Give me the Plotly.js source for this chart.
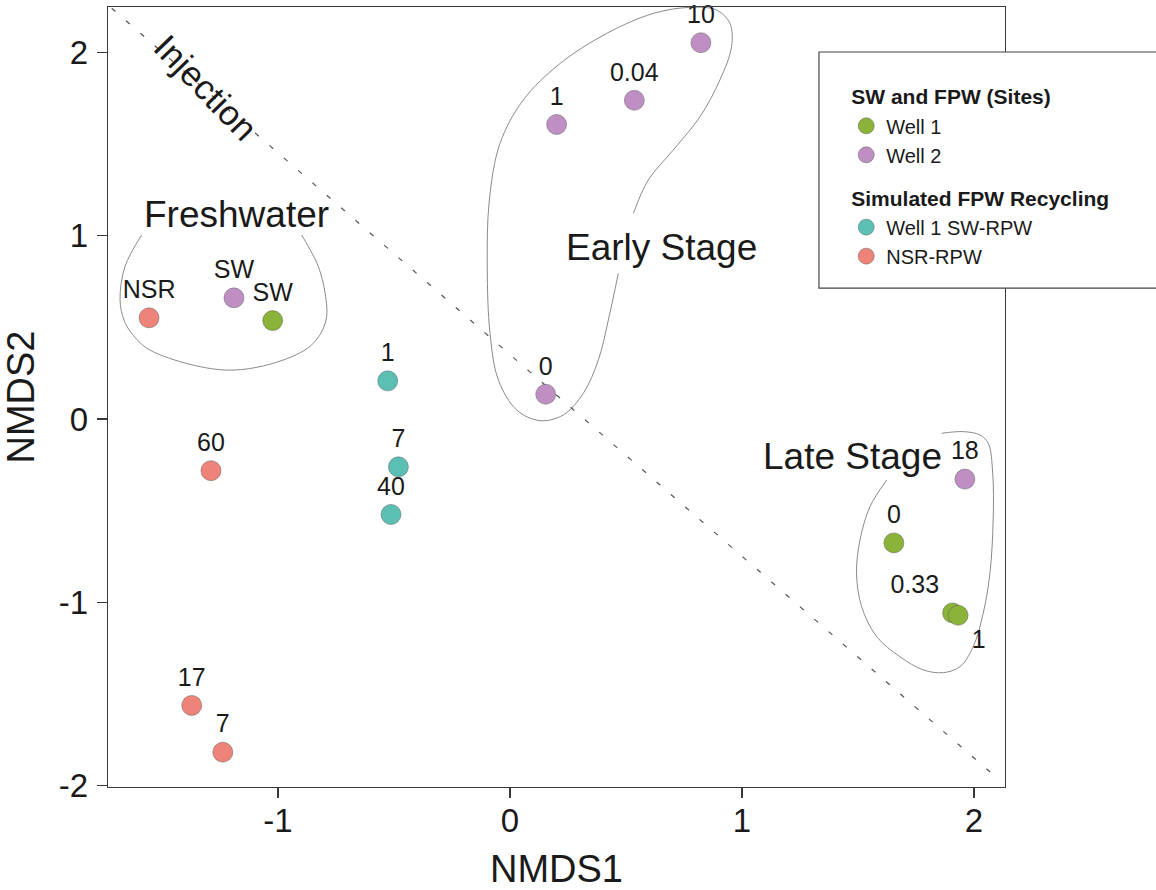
<!DOCTYPE html>
<html>
<head>
<meta charset="utf-8">
<script src="https://cdn.plot.ly/plotly-3.0.1.min.js"></script>
<style>
  html, body { margin: 0; padding: 0; background: #ffffff; }
  #chart { width: 1156px; height: 890px; }
</style>
</head>
<body>
<div id="chart"></div>
<script>
// NMDS ordination scores, one array pair per sample group
const well1X = [-1.023, 1.655, 1.908, 1.932];
const well1Y = [0.537, -0.676, -1.058, -1.071];
const well1Labels = ['SW', '0', '0.33', '1'];

const well2X = [-1.190, 0.823, 0.536, 0.201, 0.154, 1.961];
const well2Y = [0.661, 2.053, 1.739, 1.607, 0.135, -0.328];
const well2Labels = ['SW', '10', '0.04', '1', '0', '18'];

const swRpwX = [-0.527, -0.481, -0.513];
const swRpwY = [0.208, -0.261, -0.521];
const swRpwLabels = ['1', '7', '40'];

const nsrRpwX = [-1.556, -1.289, -1.372, -1.238];
const nsrRpwY = [0.552, -0.282, -1.563, -1.818];
const nsrRpwLabels = ['NSR', '60', '17', '7'];

// Group outlines (open where the group name sits)
const freshwaterHullX = [-1.588, -1.660, -1.681, -1.664, -1.631, -1.552, -1.228, -0.977, -0.848, -0.793, -0.797, -0.826, -0.869, -0.898];
const freshwaterHullY = [1.004, 0.831, 0.649, 0.540, 0.468, 0.376, 0.267, 0.322, 0.413, 0.540, 0.686, 0.831, 0.940, 1.004];

const earlyHullX = [0.532, 0.596, 0.704, 0.819, 0.905, 0.955, 0.948, 0.891, 0.776, 0.618, 0.417, 0.216, 0.057, -0.043, -0.089, -0.098, -0.086, -0.050, 0.029, 0.129, 0.230, 0.316, 0.381, 0.424, 0.467];
const earlyHullY = [1.122, 1.304, 1.468, 1.649, 1.850, 2.031, 2.159, 2.231, 2.246, 2.213, 2.104, 1.940, 1.740, 1.504, 1.195, 0.831, 0.467, 0.213, 0.049, -0.009, 0.022, 0.140, 0.322, 0.540, 0.795];

const lateHullX = [1.624, 1.552, 1.509, 1.494, 1.516, 1.581, 1.681, 1.781, 1.868, 1.940, 1.997, 2.040, 2.069, 2.083, 2.081, 2.062, 2.026, 1.954, 1.861];
const lateHullY = [-0.333, -0.478, -0.660, -0.842, -1.024, -1.188, -1.297, -1.369, -1.384, -1.351, -1.242, -1.060, -0.842, -0.551, -0.296, -0.133, -0.087, -0.069, -0.078];

// Injection divide
const injectionX = [-1.717, 2.076];
const injectionY = [2.241, -1.933];

// Axis ticks
const xTickVals = [-1, 0, 1, 2];
const xTickText = ['-1', '0', '1', '2'];
const yTickVals = [-2, -1, 0, 1, 2];
const yTickText = ['-2', '-1', '0', '1', '2'];

const FONT = 'Liberation Sans, Arial, Helvetica, sans-serif';
const INK = '#1a1a1a';
const AXIS = '#3a3a3a';

function hull(x, y) {
  return {
    type: 'scatter', mode: 'lines', x: x, y: y,
    line: { shape: 'spline', smoothing: 1, color: '#8a8a8a', width: 1 },
    hoverinfo: 'skip', showlegend: false
  };
}

function group(x, y, labels, name, color, lg, lgTitle, positions) {
  const t = {
    type: 'scatter', mode: 'markers+text', x: x, y: y,
    text: labels, name: name,
    textposition: positions || 'top center',
    textfont: { family: FONT, size: 25, color: INK },
    marker: { size: 20, color: color, line: { width: 0.8, color: 'rgba(80,80,80,0.55)' } },
    cliponaxis: false,
    legendgroup: lg
  };
  if (lgTitle) {
    t.legendgrouptitle = { text: lgTitle, font: { family: FONT, size: 21, color: INK, weight: 700 } };
  }
  return t;
}

const traces = [
  hull(freshwaterHullX, freshwaterHullY),
  hull(earlyHullX, earlyHullY),
  hull(lateHullX, lateHullY),
  {
    type: 'scatter', mode: 'lines', x: injectionX, y: injectionY,
    line: { color: '#555555', width: 1.2, dash: '5px,14px' },
    hoverinfo: 'skip', showlegend: false
  },
  group(well1X, well1Y, well1Labels, 'Well 1', '#8bb239', 'sites', 'SW and FPW (Sites)',
        ['top center', 'top center', 'top left', 'bottom right']),
  group(well2X, well2Y, well2Labels, 'Well 2', '#bf8fc4', 'sites', 'SW and FPW (Sites)'),
  group(swRpwX, swRpwY, swRpwLabels, 'Well 1 SW-RPW', '#5cbfb4', 'recycling', 'Simulated FPW Recycling'),
  group(nsrRpwX, nsrRpwY, nsrRpwLabels, 'NSR-RPW', '#ee8479', 'recycling', 'Simulated FPW Recycling')
];

const axisCommon = {
  showgrid: false, zeroline: false,
  showline: true, mirror: true, linecolor: AXIS, linewidth: 1.3,
  ticks: 'outside', ticklen: 10, tickwidth: 1.3, tickcolor: AXIS,
  tickfont: { family: FONT, size: 33, color: INK },
  tickmode: 'array', fixedrange: true
};

const layout = {
  width: 1156, height: 890,
  margin: { l: 108, r: 151, t: 7, b: 103, autoexpand: false },
  paper_bgcolor: '#ffffff', plot_bgcolor: '#ffffff',
  font: { family: FONT, color: INK },
  showlegend: true,
  xaxis: Object.assign({}, axisCommon, {
    range: [-1.733, 2.134], tickvals: xTickVals, ticktext: xTickText,
    ticklabelstandoff: -6,
    title: { text: 'NMDS1', font: { family: FONT, size: 38, color: INK }, standoff: 24 }
  }),
  yaxis: Object.assign({}, axisCommon, {
    range: [-2.008, 2.248], tickvals: yTickVals, ticktext: yTickText,
    ticklabelstandoff: 2,
    title: { text: 'NMDS2', font: { family: FONT, size: 38, color: INK }, standoff: 18 }
  }),
  legend: {
    x: 0.823, y: 0.9115, xanchor: 'left', yanchor: 'top',
    bgcolor: 'rgba(0,0,0,0)', borderwidth: 0,
    traceorder: 'grouped', tracegroupgap: 13,
    font: { family: FONT, size: 20, color: INK }
  },
  shapes: [
    {
      type: 'rect', xref: 'paper', yref: 'paper',
      x0: 0.7926, x1: 1.175, y0: 0.6397, y1: 0.9423,
      line: { color: '#444444', width: 1.2 }, fillcolor: '#ffffff', layer: 'above'
    }
  ],
  annotations: [
    { x: -1.181, y: 1.118, xref: 'x', yref: 'y', text: 'Freshwater', showarrow: false,
      font: { family: FONT, size: 37, color: INK } },
    { x: 0.651, y: 0.938, xref: 'x', yref: 'y', text: 'Early Stage', showarrow: false,
      font: { family: FONT, size: 37, color: INK } },
    { x: 1.478, y: -0.206, xref: 'x', yref: 'y', text: 'Late Stage', showarrow: false,
      font: { family: FONT, size: 37, color: INK } },
    { x: -1.31, y: 1.81, xref: 'x', yref: 'y', text: 'Injection', showarrow: false,
      textangle: 46, font: { family: FONT, size: 35, color: INK } }
  ]
};

Plotly.newPlot('chart', traces, layout, { displayModeBar: false, staticPlot: true });
</script>
</body>
</html>
